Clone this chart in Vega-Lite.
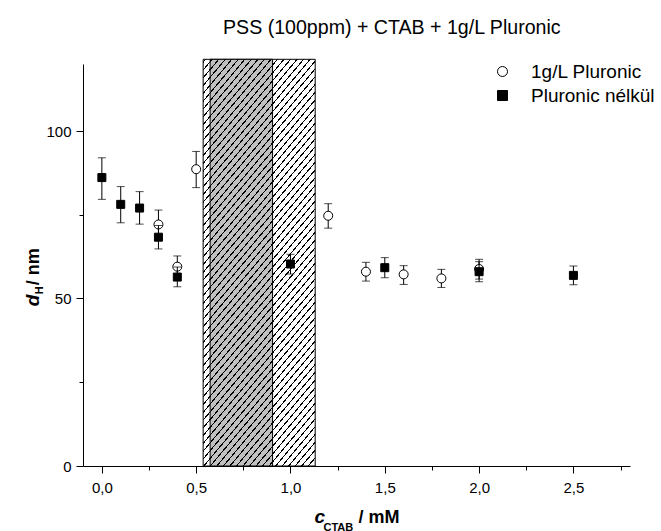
{
  "$schema": "https://vega.github.io/schema/vega-lite/v6.json",
  "width": 547,
  "height": 402,
  "autosize": {"type": "none"},
  "padding": {"left": 83, "top": 64, "right": 31, "bottom": 65},
  "background": "white",
  "title": {"text": "PSS (100ppm) + CTAB + 1g/L Pluronic", "anchor": "start", "frame": "group", "dx": 140, "offset": 5.5, "baseline": "alphabetic", "fontSize": 19.6, "fontWeight": "normal", "font": "Liberation Sans", "color": "black"},
  "datasets": {
    "pts": [
      {"c": 0.3, "d": 72.1, "lo": 67.8, "hi": 76.4, "s": "1g/L Pluronic"},
      {"c": 0.4, "d": 59.5, "lo": 56.3, "hi": 62.7, "s": "1g/L Pluronic"},
      {"c": 0.5, "d": 88.6, "lo": 83.1, "hi": 93.9, "s": "1g/L Pluronic"},
      {"c": 1.2, "d": 74.7, "lo": 71.0, "hi": 78.3, "s": "1g/L Pluronic"},
      {"c": 1.4, "d": 58.0, "lo": 55.2, "hi": 60.8, "s": "1g/L Pluronic"},
      {"c": 1.6, "d": 57.2, "lo": 54.2, "hi": 59.8, "s": "1g/L Pluronic"},
      {"c": 1.8, "d": 56.0, "lo": 53.3, "hi": 58.7, "s": "1g/L Pluronic"},
      {"c": 2.0, "d": 58.8, "lo": 55.8, "hi": 61.7, "s": "1g/L Pluronic"},
      {"c": 0.0, "d": 86.1, "lo": 79.6, "hi": 92.0, "s": "Pluronic nélkül"},
      {"c": 0.1, "d": 78.1, "lo": 72.6, "hi": 83.4, "s": "Pluronic nélkül"},
      {"c": 0.2, "d": 77.0, "lo": 72.2, "hi": 81.9, "s": "Pluronic nélkül"},
      {"c": 0.3, "d": 68.3, "lo": 64.8, "hi": 71.8, "s": "Pluronic nélkül"},
      {"c": 0.4, "d": 56.4, "lo": 53.5, "hi": 59.4, "s": "Pluronic nélkül"},
      {"c": 1.0, "d": 60.3, "lo": 57.3, "hi": 63.2, "s": "Pluronic nélkül"},
      {"c": 1.5, "d": 59.2, "lo": 56.2, "hi": 62.2, "s": "Pluronic nélkül"},
      {"c": 2.0, "d": 58.0, "lo": 55.0, "hi": 61.0, "s": "Pluronic nélkül"},
      {"c": 2.5, "d": 56.9, "lo": 54.1, "hi": 59.7, "s": "Pluronic nélkül"}
    ],
    "regions": [
      {"start": 0.537, "end": 1.131, "top": 121.4, "kind": "outer"},
      {"start": 0.574, "end": 0.905, "top": 121.4, "kind": "grey"}
    ]
  },
  "layer": [
    {
      "data": {"name": "regions"},
      "transform": [{"filter": "datum.kind === 'outer'"}],
      "mark": {"type": "rect", "fill": "white", "stroke": "black", "strokeWidth": 1},
      "encoding": {
        "x": {"field": "start", "type": "quantitative", "scale": {"domain": [-0.1, 2.8], "nice": false, "zero": false},
          "axis": {"orient": "bottom", "domain": false, "ticks": false, "labels": false, "grid": false, "title": "CTAB", "titleX": 240, "titleY": 64, "titleAlign": "left", "titleBaseline": "alphabetic", "titleAngle": 0, "titleFontSize": 11, "titleFontWeight": "bold", "titleFont": "Liberation Sans", "titleColor": "black"}},
        "x2": {"field": "end"},
        "y": {"field": "top", "type": "quantitative", "scale": {"domain": [0, 120], "nice": false, "zero": true},
          "axis": {"orient": "left", "domain": false, "ticks": false, "labels": false, "grid": false, "title": "H", "titleX": -41, "titleY": 229.7, "titleAlign": "left", "titleBaseline": "alphabetic", "titleAngle": 270, "titleFontSize": 11, "titleFontWeight": "bold", "titleFont": "Liberation Sans", "titleColor": "black"}},
        "y2": {"datum": 0}
      }
    },
    {
      "data": {"name": "regions"},
      "transform": [{"filter": "datum.kind === 'grey'"}],
      "mark": {"type": "rect", "fill": "#c0c0c0", "stroke": "black", "strokeWidth": 1},
      "encoding": {
        "x": {"field": "start", "type": "quantitative", "scale": {"domain": [-0.1, 2.8], "nice": false, "zero": false},
          "axis": {"orient": "bottom", "domain": false, "ticks": false, "labels": false, "grid": false, "title": "/ mM", "titleX": 275, "titleY": 56.7, "titleAlign": "left", "titleBaseline": "alphabetic", "titleAngle": 0, "titleFontSize": 18, "titleFontWeight": "bold", "titleFont": "Liberation Sans", "titleColor": "black"}},
        "x2": {"field": "end"},
        "y": {"field": "top", "type": "quantitative", "scale": {"domain": [0, 120], "nice": false, "zero": true},
          "axis": {"orient": "left", "domain": false, "ticks": false, "labels": false, "grid": false, "title": "/ nm", "titleX": -45, "titleY": 220.7, "titleAlign": "left", "titleBaseline": "alphabetic", "titleAngle": 270, "titleFontSize": 18, "titleFontWeight": "bold", "titleFont": "Liberation Sans", "titleColor": "black"}},
        "y2": {"datum": 0}
      }
    },
    {
      "data": {"name": "regions"},
      "transform": [{"filter": "datum.kind === 'outer'"}],
      "mark": {"type": "rect", "strokeWidth": 0, "fill": {"gradient": "linear", "x1": 0, "y1": 0, "x2": 0.3936, "y2": 1.199, "stops": [
        {"offset":0.004,"color":"transparent"},{"offset":0.004,"color":"black"},{"offset":0.007,"color":"black"},{"offset":0.007,"color":"transparent"},
        {"offset":0.0184,"color":"transparent"},{"offset":0.0184,"color":"black"},{"offset":0.0214,"color":"black"},{"offset":0.0214,"color":"transparent"},
        {"offset":0.0328,"color":"transparent"},{"offset":0.0328,"color":"black"},{"offset":0.0358,"color":"black"},{"offset":0.0358,"color":"transparent"},
        {"offset":0.0472,"color":"transparent"},{"offset":0.0472,"color":"black"},{"offset":0.0502,"color":"black"},{"offset":0.0502,"color":"transparent"},
        {"offset":0.0616,"color":"transparent"},{"offset":0.0616,"color":"black"},{"offset":0.0646,"color":"black"},{"offset":0.0646,"color":"transparent"},
        {"offset":0.076,"color":"transparent"},{"offset":0.076,"color":"black"},{"offset":0.079,"color":"black"},{"offset":0.079,"color":"transparent"},
        {"offset":0.0904,"color":"transparent"},{"offset":0.0904,"color":"black"},{"offset":0.0934,"color":"black"},{"offset":0.0934,"color":"transparent"},
        {"offset":0.1048,"color":"transparent"},{"offset":0.1048,"color":"black"},{"offset":0.1078,"color":"black"},{"offset":0.1078,"color":"transparent"},
        {"offset":0.1192,"color":"transparent"},{"offset":0.1192,"color":"black"},{"offset":0.1222,"color":"black"},{"offset":0.1222,"color":"transparent"},
        {"offset":0.1336,"color":"transparent"},{"offset":0.1336,"color":"black"},{"offset":0.1366,"color":"black"},{"offset":0.1366,"color":"transparent"},
        {"offset":0.148,"color":"transparent"},{"offset":0.148,"color":"black"},{"offset":0.151,"color":"black"},{"offset":0.151,"color":"transparent"},
        {"offset":0.1624,"color":"transparent"},{"offset":0.1624,"color":"black"},{"offset":0.1654,"color":"black"},{"offset":0.1654,"color":"transparent"},
        {"offset":0.1768,"color":"transparent"},{"offset":0.1768,"color":"black"},{"offset":0.1798,"color":"black"},{"offset":0.1798,"color":"transparent"},
        {"offset":0.1912,"color":"transparent"},{"offset":0.1912,"color":"black"},{"offset":0.1942,"color":"black"},{"offset":0.1942,"color":"transparent"},
        {"offset":0.2056,"color":"transparent"},{"offset":0.2056,"color":"black"},{"offset":0.2086,"color":"black"},{"offset":0.2086,"color":"transparent"},
        {"offset":0.22,"color":"transparent"},{"offset":0.22,"color":"black"},{"offset":0.223,"color":"black"},{"offset":0.223,"color":"transparent"},
        {"offset":0.2344,"color":"transparent"},{"offset":0.2344,"color":"black"},{"offset":0.2374,"color":"black"},{"offset":0.2374,"color":"transparent"},
        {"offset":0.2488,"color":"transparent"},{"offset":0.2488,"color":"black"},{"offset":0.2518,"color":"black"},{"offset":0.2518,"color":"transparent"},
        {"offset":0.2632,"color":"transparent"},{"offset":0.2632,"color":"black"},{"offset":0.2662,"color":"black"},{"offset":0.2662,"color":"transparent"},
        {"offset":0.2776,"color":"transparent"},{"offset":0.2776,"color":"black"},{"offset":0.2806,"color":"black"},{"offset":0.2806,"color":"transparent"},
        {"offset":0.292,"color":"transparent"},{"offset":0.292,"color":"black"},{"offset":0.295,"color":"black"},{"offset":0.295,"color":"transparent"},
        {"offset":0.3064,"color":"transparent"},{"offset":0.3064,"color":"black"},{"offset":0.3094,"color":"black"},{"offset":0.3094,"color":"transparent"},
        {"offset":0.3208,"color":"transparent"},{"offset":0.3208,"color":"black"},{"offset":0.3238,"color":"black"},{"offset":0.3238,"color":"transparent"},
        {"offset":0.3352,"color":"transparent"},{"offset":0.3352,"color":"black"},{"offset":0.3382,"color":"black"},{"offset":0.3382,"color":"transparent"},
        {"offset":0.3496,"color":"transparent"},{"offset":0.3496,"color":"black"},{"offset":0.3526,"color":"black"},{"offset":0.3526,"color":"transparent"},
        {"offset":0.364,"color":"transparent"},{"offset":0.364,"color":"black"},{"offset":0.367,"color":"black"},{"offset":0.367,"color":"transparent"},
        {"offset":0.3784,"color":"transparent"},{"offset":0.3784,"color":"black"},{"offset":0.3814,"color":"black"},{"offset":0.3814,"color":"transparent"},
        {"offset":0.3928,"color":"transparent"},{"offset":0.3928,"color":"black"},{"offset":0.3958,"color":"black"},{"offset":0.3958,"color":"transparent"},
        {"offset":0.4072,"color":"transparent"},{"offset":0.4072,"color":"black"},{"offset":0.4102,"color":"black"},{"offset":0.4102,"color":"transparent"},
        {"offset":0.4216,"color":"transparent"},{"offset":0.4216,"color":"black"},{"offset":0.4246,"color":"black"},{"offset":0.4246,"color":"transparent"},
        {"offset":0.436,"color":"transparent"},{"offset":0.436,"color":"black"},{"offset":0.439,"color":"black"},{"offset":0.439,"color":"transparent"},
        {"offset":0.4504,"color":"transparent"},{"offset":0.4504,"color":"black"},{"offset":0.4534,"color":"black"},{"offset":0.4534,"color":"transparent"},
        {"offset":0.4648,"color":"transparent"},{"offset":0.4648,"color":"black"},{"offset":0.4678,"color":"black"},{"offset":0.4678,"color":"transparent"},
        {"offset":0.4792,"color":"transparent"},{"offset":0.4792,"color":"black"},{"offset":0.4822,"color":"black"},{"offset":0.4822,"color":"transparent"},
        {"offset":0.4936,"color":"transparent"},{"offset":0.4936,"color":"black"},{"offset":0.4966,"color":"black"},{"offset":0.4966,"color":"transparent"},
        {"offset":0.508,"color":"transparent"},{"offset":0.508,"color":"black"},{"offset":0.511,"color":"black"},{"offset":0.511,"color":"transparent"},
        {"offset":0.5224,"color":"transparent"},{"offset":0.5224,"color":"black"},{"offset":0.5254,"color":"black"},{"offset":0.5254,"color":"transparent"},
        {"offset":0.5368,"color":"transparent"},{"offset":0.5368,"color":"black"},{"offset":0.5398,"color":"black"},{"offset":0.5398,"color":"transparent"},
        {"offset":0.5512,"color":"transparent"},{"offset":0.5512,"color":"black"},{"offset":0.5542,"color":"black"},{"offset":0.5542,"color":"transparent"},
        {"offset":0.5656,"color":"transparent"},{"offset":0.5656,"color":"black"},{"offset":0.5686,"color":"black"},{"offset":0.5686,"color":"transparent"},
        {"offset":0.58,"color":"transparent"},{"offset":0.58,"color":"black"},{"offset":0.583,"color":"black"},{"offset":0.583,"color":"transparent"},
        {"offset":0.5944,"color":"transparent"},{"offset":0.5944,"color":"black"},{"offset":0.5974,"color":"black"},{"offset":0.5974,"color":"transparent"},
        {"offset":0.6088,"color":"transparent"},{"offset":0.6088,"color":"black"},{"offset":0.6118,"color":"black"},{"offset":0.6118,"color":"transparent"},
        {"offset":0.6232,"color":"transparent"},{"offset":0.6232,"color":"black"},{"offset":0.6262,"color":"black"},{"offset":0.6262,"color":"transparent"},
        {"offset":0.6376,"color":"transparent"},{"offset":0.6376,"color":"black"},{"offset":0.6406,"color":"black"},{"offset":0.6406,"color":"transparent"},
        {"offset":0.652,"color":"transparent"},{"offset":0.652,"color":"black"},{"offset":0.655,"color":"black"},{"offset":0.655,"color":"transparent"},
        {"offset":0.6664,"color":"transparent"},{"offset":0.6664,"color":"black"},{"offset":0.6694,"color":"black"},{"offset":0.6694,"color":"transparent"},
        {"offset":0.6808,"color":"transparent"},{"offset":0.6808,"color":"black"},{"offset":0.6838,"color":"black"},{"offset":0.6838,"color":"transparent"},
        {"offset":0.6952,"color":"transparent"},{"offset":0.6952,"color":"black"},{"offset":0.6982,"color":"black"},{"offset":0.6982,"color":"transparent"},
        {"offset":0.7096,"color":"transparent"},{"offset":0.7096,"color":"black"},{"offset":0.7126,"color":"black"},{"offset":0.7126,"color":"transparent"},
        {"offset":0.724,"color":"transparent"},{"offset":0.724,"color":"black"},{"offset":0.727,"color":"black"},{"offset":0.727,"color":"transparent"},
        {"offset":0.7384,"color":"transparent"},{"offset":0.7384,"color":"black"},{"offset":0.7414,"color":"black"},{"offset":0.7414,"color":"transparent"},
        {"offset":0.7528,"color":"transparent"},{"offset":0.7528,"color":"black"},{"offset":0.7558,"color":"black"},{"offset":0.7558,"color":"transparent"},
        {"offset":0.7672,"color":"transparent"},{"offset":0.7672,"color":"black"},{"offset":0.7702,"color":"black"},{"offset":0.7702,"color":"transparent"},
        {"offset":0.7816,"color":"transparent"},{"offset":0.7816,"color":"black"},{"offset":0.7846,"color":"black"},{"offset":0.7846,"color":"transparent"},
        {"offset":0.796,"color":"transparent"},{"offset":0.796,"color":"black"},{"offset":0.799,"color":"black"},{"offset":0.799,"color":"transparent"},
        {"offset":0.8104,"color":"transparent"},{"offset":0.8104,"color":"black"},{"offset":0.8134,"color":"black"},{"offset":0.8134,"color":"transparent"},
        {"offset":0.8248,"color":"transparent"},{"offset":0.8248,"color":"black"},{"offset":0.8278,"color":"black"},{"offset":0.8278,"color":"transparent"},
        {"offset":0.8392,"color":"transparent"},{"offset":0.8392,"color":"black"},{"offset":0.8422,"color":"black"},{"offset":0.8422,"color":"transparent"},
        {"offset":0.8536,"color":"transparent"},{"offset":0.8536,"color":"black"},{"offset":0.8566,"color":"black"},{"offset":0.8566,"color":"transparent"},
        {"offset":0.868,"color":"transparent"},{"offset":0.868,"color":"black"},{"offset":0.871,"color":"black"},{"offset":0.871,"color":"transparent"},
        {"offset":0.8824,"color":"transparent"},{"offset":0.8824,"color":"black"},{"offset":0.8854,"color":"black"},{"offset":0.8854,"color":"transparent"},
        {"offset":0.8968,"color":"transparent"},{"offset":0.8968,"color":"black"},{"offset":0.8998,"color":"black"},{"offset":0.8998,"color":"transparent"},
        {"offset":0.9112,"color":"transparent"},{"offset":0.9112,"color":"black"},{"offset":0.9142,"color":"black"},{"offset":0.9142,"color":"transparent"},
        {"offset":0.9256,"color":"transparent"},{"offset":0.9256,"color":"black"},{"offset":0.9286,"color":"black"},{"offset":0.9286,"color":"transparent"},
        {"offset":0.94,"color":"transparent"},{"offset":0.94,"color":"black"},{"offset":0.943,"color":"black"},{"offset":0.943,"color":"transparent"},
        {"offset":0.9544,"color":"transparent"},{"offset":0.9544,"color":"black"},{"offset":0.9574,"color":"black"},{"offset":0.9574,"color":"transparent"},
        {"offset":0.9688,"color":"transparent"},{"offset":0.9688,"color":"black"},{"offset":0.9718,"color":"black"},{"offset":0.9718,"color":"transparent"},
        {"offset":0.9832,"color":"transparent"},{"offset":0.9832,"color":"black"},{"offset":0.9862,"color":"black"},{"offset":0.9862,"color":"transparent"}
      ]}},
      "encoding": {
        "x": {"field": "start", "type": "quantitative", "scale": {"domain": [-0.1, 2.8], "nice": false, "zero": false}, "axis": null},
        "x2": {"field": "end"},
        "y": {"field": "top", "type": "quantitative", "scale": {"domain": [0, 120], "nice": false, "zero": true}, "axis": null},
        "y2": {"datum": 0}
      }
    },
    {
      "data": {"name": "pts"},
      "transform": [{"filter": "datum.s === '1g/L Pluronic'"}],
      "mark": {"type": "errorbar", "color": "black", "ticks": {"size": 8, "thickness": 1, "color": "black"}, "rule": {"strokeWidth": 1, "color": "black"}},
      "encoding": {
        "x": {"field": "c", "type": "quantitative", "scale": {"domain": [-0.1, 2.8], "nice": false, "zero": false}, "axis": null},
        "y": {"field": "lo", "type": "quantitative", "scale": {"domain": [0, 120], "nice": false, "zero": true}, "axis": null},
        "y2": {"field": "hi"}
      }
    },
    {
      "data": {"name": "pts"},
      "transform": [{"filter": "datum.s === '1g/L Pluronic'"}],
      "mark": {"type": "point", "filled": true, "strokeWidth": 1, "size": 81, "opacity": 1},
      "encoding": {
        "x": {"field": "c", "type": "quantitative", "scale": {"domain": [-0.1, 2.8], "nice": false, "zero": false},
          "axis": {"orient": "bottom", "values": [0, 0.25, 0.5, 0.75, 1, 1.25, 1.5, 1.75, 2, 2.25, 2.5, 2.75], "labelExpr": "datum.value * 2 % 1 === 0 ? replace(format(datum.value, '.1f'), '.', ',') : ''", "tickSize": {"condition": {"test": "datum.value * 2 % 1 === 0", "value": 7}, "value": 4}, "labelFlush": false, "labelOverlap": false, "labelPadding": 7, "labelFontSize": 15, "labelFont": "Liberation Sans", "labelColor": "black", "domainColor": "black", "tickColor": "black", "domainWidth": 1, "tickWidth": 1, "grid": false, "title": "c", "titleX": 231, "titleY": 56.7, "titleAlign": "left", "titleBaseline": "alphabetic", "titleAngle": 0, "titleFontSize": 19, "titleFontWeight": "bold", "titleFontStyle": "italic", "titleFont": "Liberation Sans", "titleColor": "black"}},
        "y": {"field": "d", "type": "quantitative", "scale": {"domain": [0, 120], "nice": false, "zero": true},
          "axis": {"orient": "left", "values": [0, 25, 50, 75, 100], "labelExpr": "datum.value % 50 === 0 ? datum.label : ''", "tickSize": {"condition": {"test": "datum.value % 50 === 0", "value": 7}, "value": 4}, "labelOverlap": false, "labelFlush": false, "labelPadding": 5, "labelFontSize": 15, "labelFont": "Liberation Sans", "labelColor": "black", "domainColor": "black", "tickColor": "black", "domainWidth": 1, "tickWidth": 1, "grid": false, "title": "d", "titleX": -45, "titleY": 241.7, "titleAlign": "left", "titleBaseline": "alphabetic", "titleAngle": 270, "titleFontSize": 19, "titleFontWeight": "bold", "titleFontStyle": "italic", "titleFont": "Liberation Sans", "titleColor": "black"}},
        "shape": {"field": "s", "type": "nominal", "scale": {"domain": ["1g/L Pluronic", "Pluronic nélkül"], "range": ["circle", "square"]},
          "legend": {"title": null, "orient": "none", "legendX": 410, "legendY": -2, "padding": 0, "labelFont": "Liberation Sans", "labelFontSize": 19, "labelColor": "black", "symbolSize": 100, "labelOffset": 19, "rowPadding": 4, "symbolStrokeWidth": 1}},
        "fill": {"field": "s", "type": "nominal", "scale": {"domain": ["1g/L Pluronic", "Pluronic nélkül"], "range": ["white", "black"]},
          "legend": {"title": null, "orient": "none", "legendX": 410, "legendY": -2, "padding": 0, "labelFont": "Liberation Sans", "labelFontSize": 19, "labelColor": "black", "symbolSize": 100, "labelOffset": 19, "rowPadding": 4, "symbolStrokeWidth": 1}},
        "stroke": {"field": "s", "type": "nominal", "scale": {"domain": ["1g/L Pluronic", "Pluronic nélkül"], "range": ["black", "black"]},
          "legend": {"title": null, "orient": "none", "legendX": 410, "legendY": -2, "padding": 0, "labelFont": "Liberation Sans", "labelFontSize": 19, "labelColor": "black", "symbolSize": 100, "labelOffset": 19, "rowPadding": 4, "symbolStrokeWidth": 1}}
      }
    },
    {
      "data": {"name": "pts"},
      "transform": [{"filter": "datum.s === 'Pluronic nélkül'"}],
      "mark": {"type": "errorbar", "color": "black", "ticks": {"size": 8, "thickness": 1, "color": "black"}, "rule": {"strokeWidth": 1, "color": "black"}},
      "encoding": {
        "x": {"field": "c", "type": "quantitative", "scale": {"domain": [-0.1, 2.8], "nice": false, "zero": false}, "axis": null},
        "y": {"field": "lo", "type": "quantitative", "scale": {"domain": [0, 120], "nice": false, "zero": true}, "axis": null},
        "y2": {"field": "hi"}
      }
    },
    {
      "data": {"name": "pts"},
      "transform": [{"filter": "datum.s === 'Pluronic nélkül'"}],
      "mark": {"type": "point", "filled": true, "strokeWidth": 1, "size": 64, "opacity": 1},
      "encoding": {
        "x": {"field": "c", "type": "quantitative", "scale": {"domain": [-0.1, 2.8], "nice": false, "zero": false}, "axis": null},
        "y": {"field": "d", "type": "quantitative", "scale": {"domain": [0, 120], "nice": false, "zero": true}, "axis": null},
        "shape": {"field": "s", "type": "nominal", "scale": {"domain": ["1g/L Pluronic", "Pluronic nélkül"], "range": ["circle", "square"]},
          "legend": {"title": null, "orient": "none", "legendX": 410, "legendY": -2, "padding": 0, "labelFont": "Liberation Sans", "labelFontSize": 19, "labelColor": "black", "symbolSize": 100, "labelOffset": 19, "rowPadding": 4, "symbolStrokeWidth": 1}},
        "fill": {"field": "s", "type": "nominal", "scale": {"domain": ["1g/L Pluronic", "Pluronic nélkül"], "range": ["white", "black"]},
          "legend": {"title": null, "orient": "none", "legendX": 410, "legendY": -2, "padding": 0, "labelFont": "Liberation Sans", "labelFontSize": 19, "labelColor": "black", "symbolSize": 100, "labelOffset": 19, "rowPadding": 4, "symbolStrokeWidth": 1}},
        "stroke": {"field": "s", "type": "nominal", "scale": {"domain": ["1g/L Pluronic", "Pluronic nélkül"], "range": ["black", "black"]},
          "legend": {"title": null, "orient": "none", "legendX": 410, "legendY": -2, "padding": 0, "labelFont": "Liberation Sans", "labelFontSize": 19, "labelColor": "black", "symbolSize": 100, "labelOffset": 19, "rowPadding": 4, "symbolStrokeWidth": 1}}
      }
    }
  ],
  "resolve": {"axis": {"x": "independent", "y": "independent"}},
  "config": {
    "font": "Liberation Sans",
    "view": {"stroke": null},
    "axis": {"grid": false}
  }
}
